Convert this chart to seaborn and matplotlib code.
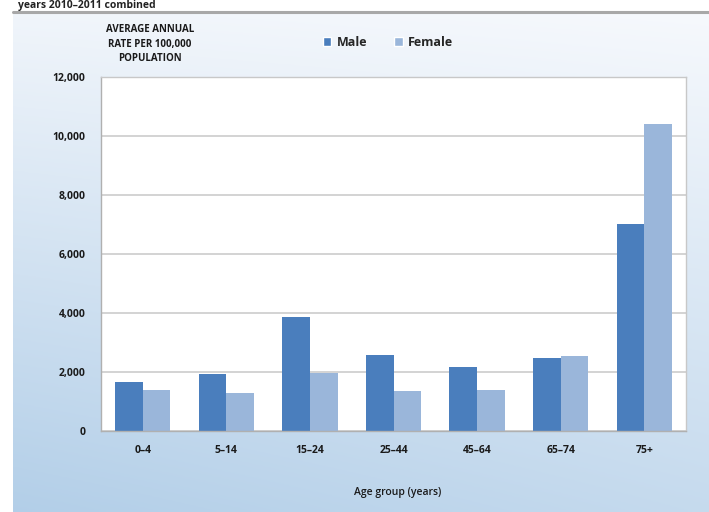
import numpy as np
import pandas as pd
import matplotlib
matplotlib.use("Agg")
import matplotlib.pyplot as plt
from matplotlib.patches import Patch
import seaborn as sns

# Average annual rate per 100,000 population, by age group and sex
age_groups = ["0\u20134", "5\u201314", "15\u201324", "25\u201344", "45\u201364", "65\u201374", "75+"]
male = [1660, 1940, 3870, 2570, 2160, 2490, 7030]
female = [1380, 1300, 1980, 1370, 1380, 2540, 10420]
y_ticks = [0, 2000, 4000, 6000, 8000, 10000, 12000]

df = pd.DataFrame({
    "Age group": age_groups * 2,
    "Sex": ["Male"] * len(age_groups) + ["Female"] * len(age_groups),
    "Rate": male + female,
})

sns.set_theme(style="white")
plt.rcParams["font.family"] = ["Open Sans", "DejaVu Sans"]

W, H = 709, 512
fig = plt.figure(figsize=(W / 100, H / 100), dpi=100)
fig.patch.set_facecolor("white")

# Gradient panel behind the chart
bg = fig.add_axes([13 / W, 0, 1 - 13 / W, (H - 14) / H])
bg.set_zorder(-10)
ny, nx = 200, 300
yy, xx = np.mgrid[0:1:ny * 1j, 0:1:nx * 1j]
t = np.clip(0.72 * yy + 0.28 * (1 - xx) * (0.3 + 0.7 * yy), 0, 1)
top = np.array([0.965, 0.975, 0.99])
bot = np.array([0.70, 0.81, 0.91])
img = top[None, None, :] * (1 - t[..., None]) + bot[None, None, :] * t[..., None]
bg.imshow(img, aspect="auto", extent=[0, 1, 0, 1], origin="upper")
bg.set_axis_off()

# Separator rule and heading at the top
fig.add_artist(plt.Line2D([13 / W, 1], [1 - 12 / H, 1 - 12 / H], color="#a8a8a8", lw=2.2))
fig.text(18 / W, 1 - 5.5 / H, "years 2010\u20132011 combined", fontsize=7.5, fontweight="bold",
         color="#222222", va="center", ha="left")

ax = fig.add_axes([101 / W, (H - 431) / H, 585 / W, 354 / H])
ax.set_facecolor("white")
sns.barplot(data=df, x="Age group", y="Rate", hue="Sex", ax=ax,
            palette={"Male": "#4a7ebd", "Female": "#9ab6da"},
            width=0.66, saturation=1, legend=False, edgecolor="none")

ax.set_ylim(0, 12000)
ax.set_yticks(y_ticks)
ax.set_yticklabels([f"{v:,}" for v in y_ticks], fontsize=7.5, fontweight="bold", color="#1a1a1a")
ax.set_xticks(range(len(age_groups)))
ax.set_xticklabels(age_groups, fontsize=7.5, fontweight="bold", color="#1a1a1a")
ax.tick_params(axis="y", length=5, color="#b0b0b0", pad=6)
ax.tick_params(axis="x", length=0, pad=10)
ax.yaxis.grid(True, color="#c8c8c8", lw=1.1)
ax.set_axisbelow(True)
for s in ax.spines.values():
    s.set_color("#c8c8c8")
    s.set_linewidth(1)
ax.spines["left"].set_color("#b0b0b0")
ax.spines["bottom"].set_color("#b0b0b0")
ax.set_xlabel("")
ax.set_ylabel("")

fig.text(150 / W, 1 - 44 / H, "AVERAGE ANNUAL\nRATE PER 100,000\nPOPULATION", fontsize=7,
         fontweight="bold", color="#1a1a1a", ha="center", va="center", linespacing=1.4)
fig.text(398 / W, 1 - 492 / H, "Age group (years)", fontsize=7.5, fontweight="semibold",
         color="#1a1a1a", ha="center", va="center")

# Legend
handles = [Patch(facecolor="#4a7ebd", label="Male"), Patch(facecolor="#9ab6da", label="Female")]
fig.legend(handles=handles, loc="center", bbox_to_anchor=(388 / W, 1 - 42 / H), ncol=2,
           frameon=False, handlelength=0.7, handleheight=0.7, handletextpad=0.4,
           columnspacing=2.2, prop={"size": 9, "weight": "bold"})

fig.savefig("out.png", dpi=100)
